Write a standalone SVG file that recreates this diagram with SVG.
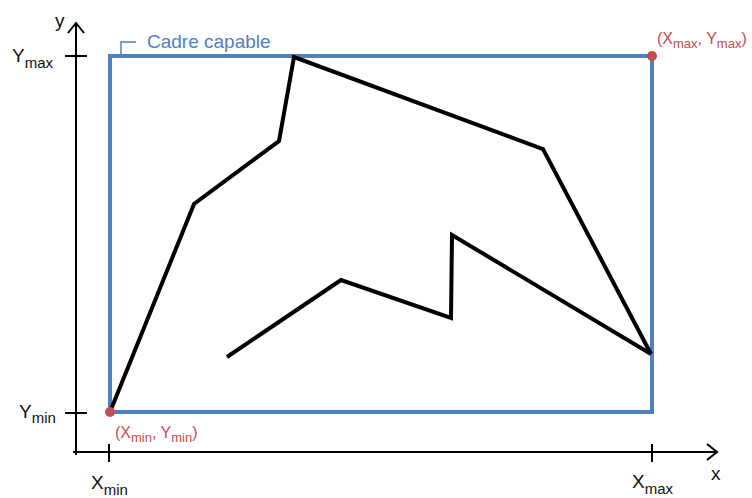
<svg xmlns="http://www.w3.org/2000/svg" width="752" height="498" viewBox="0 0 752 498">
<style>
.lbl{font-family:"Liberation Sans",Arial,sans-serif;fill:#111;font-size:19px}
.sub{font-size:15px}
.pt{font-family:"Liberation Sans",Arial,sans-serif;fill:#c0504d;font-size:16px}
.psub{font-size:13px}
.axis{stroke:#000;stroke-width:2;fill:none}
.frame{stroke:#4f81bd;stroke-width:4;fill:none}
.poly{stroke:#000;stroke-width:4;fill:none;stroke-linejoin:miter}
</style>
<rect width="752" height="498" fill="#fff"/>
<g id="axes">
  <path class="axis" d="M76,455 V24 M68,33 L76,23 L84,33"/>
  <path class="axis" d="M73,452 H717 M707,444 L717,452 L707,460"/>
  <path class="axis" d="M65,56 H87 M65,413 H87 M109,444 V462 M652,444 V462"/>
  <text class="lbl" x="55" y="27">y</text>
  <text class="lbl" x="711" y="480">x</text>
  <text class="lbl" x="12" y="62">Y<tspan class="sub" dy="6">max</tspan></text>
  <text class="lbl" x="19" y="418">Y<tspan class="sub" dy="5">min</tspan></text>
  <text class="lbl" x="91" y="489">X<tspan class="sub" dy="6">min</tspan></text>
  <text class="lbl" x="632" y="488">X<tspan class="sub" dy="6">max</tspan></text>
</g>
<g id="frame">
  <rect class="frame" x="110" y="56" width="542" height="356"/>
  <path d="M121,55 V42 H136" stroke="#4f81bd" stroke-width="1.5" fill="none"/>
  <text x="147" y="48" font-family="Liberation Sans,Arial,sans-serif" font-size="19" fill="#4f81bd">Cadre capable</text>
</g>
<g id="polylines">
  <polyline class="poly" points="110,412 194,204 279,141 294,57 543,149 651,354"/>
  <polyline class="poly" points="227,357 341,280 451,318 452,235 651,354"/>
</g>
<g id="points">
  <circle cx="110" cy="412" r="5" fill="#c0504d"/>
  <circle cx="652" cy="56" r="5" fill="#c0504d"/>
  <text class="pt" x="115" y="438">(X<tspan class="psub" dy="4">min</tspan><tspan dy="-4">, Y</tspan><tspan class="psub" dy="4">min</tspan><tspan dy="-4">)</tspan></text>
  <text class="pt" x="657" y="44">(X<tspan class="psub" dy="4">max</tspan><tspan dy="-4">, Y</tspan><tspan class="psub" dy="4">max</tspan><tspan dy="-4">)</tspan></text>
</g>
</svg>
